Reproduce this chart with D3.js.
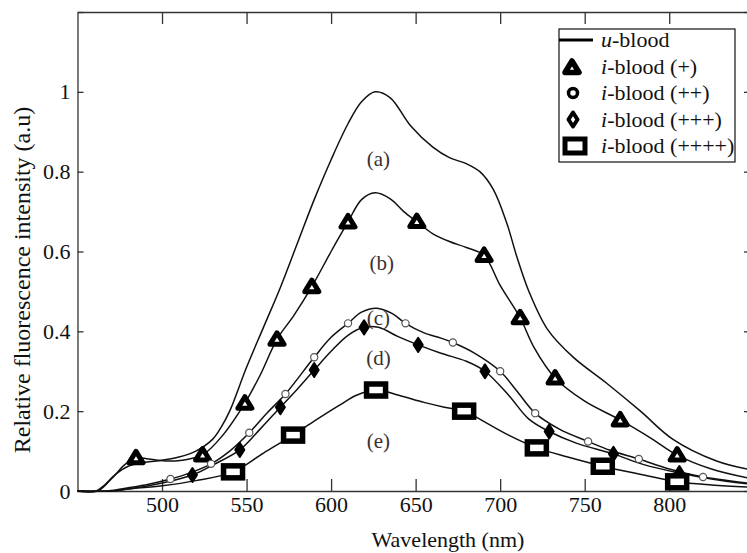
<!DOCTYPE html>
<html>
<head>
<meta charset="utf-8">
<script src="https://cdn.jsdelivr.net/npm/d3@7"></script>
<style>
  body { margin: 0; background: #fff; }
  svg { display: block; }
</style>
</head>
<body>
<div id="chart"></div>
<script>
let width = 747
let height = 553

// spectra, [wavelength nm, relative intensity]
const uBlood = [[450,0],[461,0],[466,0.015],[472,0.04],[480,0.062],[490,0.072],[500,0.077],[510,0.085],[520,0.1],[530,0.13],[535,0.16],[540,0.2],[550,0.31],[560,0.41],[570,0.51],[580,0.62],[590,0.73],[600,0.83],[610,0.92],[618,0.975],[626,1.0],[635,0.985],[647,0.915],[660,0.862],[670,0.835],[680,0.82],[688,0.8],[696,0.755],[704,0.67],[710,0.585],[717,0.5],[728,0.405],[743,0.336],[763,0.27],[783,0.2],[802,0.13],[828,0.075],[846,0.055]]

const iBlood1 = [[450,0],[462,0],[470,0.03],[478,0.066],[484.6,0.083],[492,0.08],[502,0.075],[512,0.077],[518,0.082],[524,0.09],[536,0.14],[549,0.22],[558,0.29],[568,0.38],[578,0.44],[588.6,0.512],[600,0.6],[610,0.674],[618,0.73],[626,0.747],[635,0.732],[643,0.7],[650.7,0.675],[660,0.645],[670,0.625],[680,0.61],[690.5,0.59],[700,0.515],[711.8,0.434],[720,0.36],[732.5,0.283],[750,0.225],[771,0.178],[790,0.13],[804.7,0.09],[825,0.055],[846,0.033]]
const iBlood1Marks = [[484.6,0.083],[524,0.09],[549,0.22],[568,0.38],[588.6,0.512],[610,0.674],[650.7,0.675],[690.5,0.59],[711.8,0.434],[732.5,0.283],[771,0.178],[804.7,0.09]]

const iBlood2 = [[450,0],[468,0],[480,0.008],[492,0.017],[505,0.03],[517,0.046],[529,0.068],[540,0.1],[551.6,0.146],[562,0.195],[573,0.243],[590,0.335],[600,0.385],[610,0.42],[618,0.448],[627,0.458],[636,0.445],[644,0.42],[655,0.396],[665,0.383],[672,0.372],[685,0.345],[700,0.3],[710,0.25],[720.7,0.195],[735,0.155],[752,0.124],[765,0.102],[782,0.08],[800,0.055],[820,0.035],[846,0.02]]
const iBlood2Marks = [[505,0.03],[529,0.068],[551.6,0.146],[573,0.243],[590,0.335],[610,0.42],[644,0.42],[672,0.372],[700,0.3],[720.7,0.195],[752,0.124],[782,0.08],[820,0.035]]

const iBlood3 = [[450,0],[470,0],[485,0.008],[500,0.02],[518,0.04],[530,0.065],[546,0.103],[558,0.155],[570,0.21],[580,0.255],[590,0.303],[600,0.35],[610,0.39],[619.5,0.41],[628,0.41],[640,0.386],[651.5,0.366],[665,0.345],[680,0.325],[691,0.3],[705,0.24],[717,0.18],[729,0.149],[745,0.12],[767,0.093],[785,0.066],[806,0.045],[825,0.03],[846,0.018]]
const iBlood3Marks = [[518,0.04],[546,0.103],[570,0.21],[590,0.303],[619.5,0.41],[651.5,0.366],[691,0.3],[729,0.149],[767,0.093],[806,0.045]]

const iBlood4 = [[450,0],[470,0],[480,0.005],[500,0.013],[520,0.026],[542,0.048],[560,0.095],[577.5,0.14],[590,0.175],[605,0.215],[615,0.24],[626.6,0.253],[640,0.24],[655,0.222],[667,0.21],[678.7,0.2],[690,0.175],[705,0.14],[721.7,0.108],[740,0.085],[760.7,0.062],[785,0.04],[804.7,0.023],[825,0.015],[846,0.01]]
const iBlood4Marks = [[542,0.048],[577.5,0.14],[626.6,0.253],[678.7,0.2],[721.7,0.108],[760.7,0.062],[804.7,0.023]]

const curveLabels = ['(a)','(b)','(c)','(d)','(e)']
const curveLabelAt = [[628,0.832],[630,0.571],[628,0.434],[628,0.333],[628,0.125]]

const legendNames = ['u', 'i', 'i', 'i', 'i']
const legendRest = ['-blood', '-blood (+)', '-blood (++)', '-blood (+++)', '-blood (++++)']

const xTicks = [500, 550, 600, 650, 700, 750, 800]
const yTicks = [0, 0.2, 0.4, 0.6, 0.8, 1, 1.2]

const serif = '"Liberation Serif", "Times New Roman", serif'

let svg = d3.select('#chart')
            .append('svg')
            .attr('width', width)
            .attr('height', height)

let xScale = d3.scaleLinear()
            .domain([450, 846])
            .range([77.5, 747])

let yScale = d3.scaleLinear()
            .domain([0, 1.2])
            .range([491, 12])

// frame + ticks
svg.append('g')
    .attr('transform', 'translate(0,' + yScale(0) + ')')
    .call(d3.axisBottom(xScale).tickValues(xTicks).tickSize(-12).tickSizeOuter(0).tickPadding(5).tickFormat(d => d))
svg.append('g')
    .attr('transform', 'translate(0,' + yScale(1.2) + ')')
    .call(d3.axisTop(xScale).tickValues(xTicks).tickSize(-12).tickSizeOuter(0).tickFormat(''))
svg.append('g')
    .attr('transform', 'translate(' + xScale(450) + ',0)')
    .call(d3.axisLeft(yScale).tickValues(yTicks).tickSize(-6).tickSizeOuter(0).tickPadding(7)
        .tickFormat(d => d === 1.2 ? '' : (d === 0 || d === 1) ? d : d3.format('.1f')(d)))
svg.append('g')
    .attr('transform', 'translate(749,0)')
    .call(d3.axisRight(yScale).tickValues(yTicks).tickSize(-5).tickSizeOuter(0).tickFormat(''))

svg.selectAll('.domain').attr('stroke', '#333').attr('stroke-width', 1.3)
svg.selectAll('.tick line').attr('stroke', '#333').attr('stroke-width', 1.3)
svg.selectAll('.tick text')
    .attr('font-family', serif)
    .attr('font-size', 22)
    .attr('fill', '#111')

// axis titles
svg.append('text')
    .attr('x', 448)
    .attr('y', 547)
    .attr('text-anchor', 'middle')
    .attr('font-family', serif)
    .attr('font-size', 22)
    .attr('fill', '#111')
    .text('Wavelength (nm)')

svg.append('text')
    .attr('transform', 'translate(30,280) rotate(-90)')
    .attr('text-anchor', 'middle')
    .attr('font-family', serif)
    .attr('font-size', 24)
    .attr('fill', '#111')
    .text('Relative fluorescence intensity (a.u)')

let line = d3.line()
    .x(d => xScale(d[0]))
    .y(d => yScale(d[1]))
    .curve(d3.curveCatmullRom.alpha(0.5))

let plot = svg.append('g')

;[uBlood, iBlood1, iBlood2, iBlood3, iBlood4].forEach(s => {
    plot.append('path')
        .datum(s)
        .attr('d', line)
        .attr('fill', 'none')
        .attr('stroke', '#111')
        .attr('stroke-width', 1.5)
})

// markers
let triPath = 'M0,-6.5 L7,5 L-7,5 Z'
let diaPath = 'M0,-7 L4.5,0 L0,7 L-4.5,0 Z'

plot.selectAll('.tri')
    .data(iBlood1Marks)
    .enter()
    .append('path')
    .attr('class', 'tri')
    .attr('transform', d => 'translate(' + xScale(d[0]) + ',' + yScale(d[1]) + ')')
    .attr('d', triPath)
    .attr('fill', '#fff')
    .attr('stroke', '#000')
    .attr('stroke-width', 5)
    .attr('stroke-linejoin', 'round')

plot.selectAll('.circ')
    .data(iBlood2Marks)
    .enter()
    .append('circle')
    .attr('class', 'circ')
    .attr('cx', d => xScale(d[0]))
    .attr('cy', d => yScale(d[1]))
    .attr('r', 3.6)
    .attr('fill', '#fff')
    .attr('stroke', '#555')
    .attr('stroke-width', 1.2)

plot.selectAll('.dia')
    .data(iBlood3Marks)
    .enter()
    .append('path')
    .attr('class', 'dia')
    .attr('transform', d => 'translate(' + xScale(d[0]) + ',' + yScale(d[1]) + ')')
    .attr('d', diaPath)
    .attr('fill', '#000')
    .attr('stroke', '#000')
    .attr('stroke-width', 2)
    .attr('stroke-linejoin', 'round')

plot.selectAll('.sq')
    .data(iBlood4Marks)
    .enter()
    .append('rect')
    .attr('class', 'sq')
    .attr('x', d => xScale(d[0]) - 9.5)
    .attr('y', d => yScale(d[1]) - 6)
    .attr('width', 19)
    .attr('height', 12)
    .attr('fill', '#fff')
    .attr('stroke', '#000')
    .attr('stroke-width', 5.5)

// curve labels
svg.selectAll('.clabel')
    .data(curveLabels)
    .enter()
    .append('text')
    .attr('class', 'clabel')
    .attr('x', (d, i) => xScale(curveLabelAt[i][0]))
    .attr('y', (d, i) => yScale(curveLabelAt[i][1]))
    .attr('dy', '0.35em')
    .attr('text-anchor', 'middle')
    .attr('font-family', serif)
    .attr('font-size', 21)
    .attr('fill', '#3b3030')
    .text(d => d)

// legend
let legend = svg.append('g')
    .attr('transform', 'translate(559,29)')

legend.append('rect')
    .attr('width', 176)
    .attr('height', 133)
    .attr('fill', '#fff')
    .attr('stroke', '#111')
    .attr('stroke-width', 1.2)

let rowY = i => 11 + i * 26.5

legend.append('line')
    .attr('x1', 0).attr('x2', 34)
    .attr('y1', rowY(0)).attr('y2', rowY(0))
    .attr('stroke', '#000')
    .attr('stroke-width', 3)

legend.append('path')
    .attr('transform', 'translate(13,' + (rowY(1) + 1) + ')')
    .attr('d', triPath)
    .attr('fill', '#fff')
    .attr('stroke', '#000')
    .attr('stroke-width', 5.5)
    .attr('stroke-linejoin', 'round')

legend.append('circle')
    .attr('cx', 14).attr('cy', rowY(2))
    .attr('r', 4.5)
    .attr('fill', '#fff')
    .attr('stroke', '#000')
    .attr('stroke-width', 3.5)

legend.append('path')
    .attr('transform', 'translate(14,' + rowY(3) + ')')
    .attr('d', diaPath)
    .attr('fill', '#fff')
    .attr('stroke', '#000')
    .attr('stroke-width', 4)
    .attr('stroke-linejoin', 'round')

legend.append('rect')
    .attr('x', 6).attr('y', rowY(4) - 7)
    .attr('width', 20).attr('height', 14)
    .attr('fill', '#fff')
    .attr('stroke', '#000')
    .attr('stroke-width', 5)

let ltext = legend.selectAll('.ltext')
    .data(legendRest)
    .enter()
    .append('text')
    .attr('class', 'ltext')
    .attr('x', 42)
    .attr('y', (d, i) => rowY(i))
    .attr('dy', '0.33em')
    .attr('font-family', serif)
    .attr('font-size', 22)
    .attr('fill', '#111')

ltext.append('tspan')
    .attr('font-style', 'italic')
    .text((d, i) => legendNames[i])
ltext.append('tspan')
    .text(d => d)
</script>
</body>
</html>
